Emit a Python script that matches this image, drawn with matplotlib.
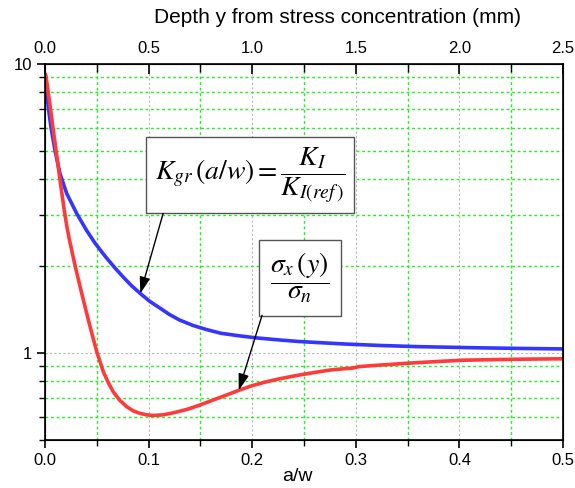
import numpy as np
import matplotlib.pyplot as plt
from matplotlib.ticker import MultipleLocator, LogLocator, NullFormatter, FixedLocator

plt.rcParams['font.family'] = ['Liberation Sans', 'DejaVu Sans']
plt.rcParams['mathtext.fontset'] = 'stix'

# K_gr(a/w) curve (blue)
aw_k = [0, 0.0016, 0.0032, 0.0058, 0.0097, 0.0145, 0.021, 0.0306, 0.040, 0.0483,
        0.0547, 0.0595, 0.0675, 0.0756, 0.0835, 0.0917, 0.101, 0.111, 0.120, 0.130,
        0.143, 0.156, 0.170, 0.188, 0.205, 0.227, 0.245, 0.265, 0.29, 0.323,
        0.36, 0.42, 0.46, 0.5]
k_gr = [8.6, 8.07, 7.07, 6.03, 5.01, 4.17, 3.56, 3.04, 2.66, 2.40,
        2.24, 2.13, 1.97, 1.83, 1.71, 1.61, 1.51, 1.43, 1.36, 1.30,
        1.245, 1.205, 1.17, 1.146, 1.127, 1.109, 1.096, 1.086, 1.074, 1.062,
        1.052, 1.042, 1.037, 1.033]

# sigma_x(y)/sigma_n curve (red)
aw_s = [0, 0.001, 0.0022, 0.0039, 0.0058, 0.008, 0.0113, 0.0148, 0.0185, 0.021,
        0.0235, 0.0273, 0.0305, 0.0338, 0.0378, 0.0418, 0.0458, 0.0499, 0.0563, 0.061,
        0.066, 0.072, 0.0789, 0.085, 0.0917, 0.098, 0.1045, 0.114, 0.124, 0.137,
        0.1496, 0.162, 0.175, 0.188, 0.2, 0.213, 0.227, 0.243, 0.259, 0.275,
        0.29, 0.297, 0.303, 0.315, 0.335, 0.355, 0.38, 0.403, 0.43, 0.46, 0.5]
sig = [9.3, 9.07, 8.42, 7.61, 6.77, 5.90, 4.83, 3.89, 3.13, 2.75,
       2.47, 2.14, 1.905, 1.70, 1.486, 1.303, 1.148, 1.012, 0.861, 0.791,
       0.733, 0.687, 0.652, 0.631, 0.618, 0.611, 0.608, 0.611, 0.621, 0.638,
       0.661, 0.687, 0.715, 0.745, 0.771, 0.794, 0.815, 0.836, 0.855, 0.873,
       0.883, 0.887, 0.897, 0.904, 0.914, 0.924, 0.935, 0.944, 0.948, 0.952, 0.955]

depth_max = 2.5  # mm, matches a/w = 0.5

fig = plt.figure(figsize=(5.75, 4.88), dpi=100)
ax = fig.add_axes([45/575, 48/488, 518/575, 376/488])

ax.plot(aw_k, k_gr, color='#3535ff', lw=2.6, solid_capstyle='butt')
ax.plot(aw_s, sig, color='#ff3a3a', lw=2.6, solid_capstyle='butt')

ax.set_yscale('log')
ax.set_xlim(0, 0.5)
ax.set_ylim(0.5, 10)
ax.xaxis.set_major_locator(MultipleLocator(0.1))
ax.xaxis.set_minor_locator(MultipleLocator(0.05))
ax.yaxis.set_major_locator(FixedLocator([1, 10]))
ax.yaxis.set_minor_locator(LogLocator(base=10, subs=np.arange(2, 10)))
ax.yaxis.set_minor_formatter(NullFormatter())
ax.set_yticklabels(['1', '10'])
ax.xaxis.set_major_formatter(plt.FormatStrFormatter('%.1f'))

ax.grid(which='major', color='#b8b8b8', linestyle=(0, (2, 2)), lw=0.8)
ax.grid(which='minor', color='#22ee22', linestyle=(0, (2, 2)), lw=1.0)

ax.tick_params(which='major', direction='out', length=6, width=1.2, labelsize=12)
ax.tick_params(which='minor', direction='out', length=4, width=1.0)
ax.set_xlabel('a/w', fontsize=14)
ax.xaxis.set_label_coords(0.488, -0.074)
for s in ax.spines.values():
    s.set_linewidth(1.2)

top = ax.twiny()
top.set_xlim(0, depth_max)
top.xaxis.set_major_locator(MultipleLocator(0.5))
top.xaxis.set_minor_locator(MultipleLocator(0.25))
top.xaxis.set_major_formatter(plt.FormatStrFormatter('%.1f'))
top.tick_params(which='major', direction='in', length=7, width=1.2, labelsize=12, pad=6)
top.tick_params(which='minor', direction='in', length=6, width=1.0)
top.set_xlabel('Depth y from stress concentration (mm)', fontsize=15)
top.xaxis.set_label_coords(0.565, 1.108)

arrow = dict(arrowstyle='-|>,head_length=0.5,head_width=0.16', color='black', lw=1.0,
             mutation_scale=20, shrinkA=0, shrinkB=0)

ax.text(0.198, 4.13, r'$K_{gr}\,(a/w) = \dfrac{K_I}{K_{I(ref\,)}}$', fontsize=20,
        ha='center', va='center',
        bbox=dict(boxstyle='square,pad=0.3', fc='white', ec='#555555', lw=1.0))
xa = 0.092
ax.annotate('', xy=(xa, np.exp(np.interp(xa, aw_k, np.log(k_gr)))), xytext=(0.114, 3.04),
            arrowprops=arrow)

ax.text(0.2457, 1.82, r'$\dfrac{\sigma_x\,(y)}{\sigma_n}$', fontsize=20,
        ha='center', va='center',
        bbox=dict(boxstyle='square,pad=0.4', fc='white', ec='#555555', lw=1.0))
xb = 0.187
ax.annotate('', xy=(xb, np.exp(np.interp(xb, aw_s, np.log(sig)))), xytext=(0.2095, 1.35),
            arrowprops=arrow)

fig.savefig('out.png', dpi=100)
